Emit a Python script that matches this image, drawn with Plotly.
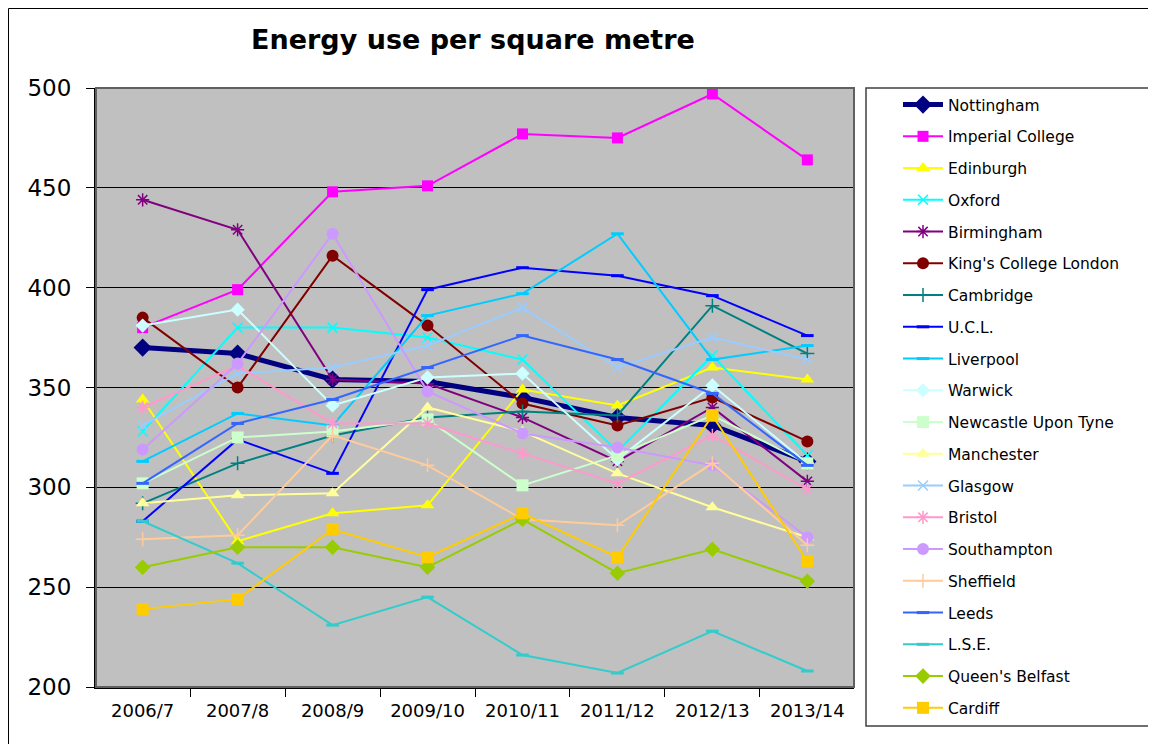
import plotly.graph_objects as go

years = ["2006/7", "2007/8", "2008/9", "2009/10", "2010/11", "2011/12", "2012/13", "2013/14"]

nottingham = [370, 367, 354, 353, 345, 335, 331, 313]
imperial = [380, 399, 448, 451, 477, 475, 497, 464]
edinburgh = [344, 273, 287, 291, 349, 341, 360, 354]
oxford = [328, 380, 380, 375, 364, 318, 366, 316]
birmingham = [444, 429, 354, 352, 335, 313, 340, 303]
kings = [385, 350, 416, 381, 342, 331, 345, 323]
cambridge = [292, 312, 326, 335, 338, 336, 391, 367]
ucl = [283, 324, 307, 399, 410, 406, 396, 376]
liverpool = [313, 337, 331, 386, 397, 427, 364, 371]
warwick = [381, 389, 341, 355, 357, 314, 351, 312]
newcastle = [302, 325, 328, 334, 301, 316, 336, 312]
manchester = [292, 296, 297, 340, 328, 307, 290, 275]
glasgow = [331, 357, 360, 371, 390, 360, 375, 364]
bristol = [340, 361, 332, 332, 317, 302, 326, 299]
southampton = [319, 362, 427, 348, 327, 320, 311, 275]
sheffield = [274, 276, 326, 311, 284, 281, 312, 271]
leeds = [302, 332, 344, 360, 376, 364, 347, 311]
lse = [283, 262, 231, 245, 216, 207, 228, 208]
belfast = [260, 270, 270, 260, 284, 257, 269, 253]
cardiff = [239, 244, 279, 265, 287, 265, 336, 263]

series = [
    ("Nottingham", nottingham, "#000080", "diamond", 14, 5),
    ("Imperial College", imperial, "#FF00FF", "square", 11, 2),
    ("Edinburgh", edinburgh, "#FFFF00", "triangle-up", 12, 2),
    ("Oxford", oxford, "#00FFFF", "x-thin-open", 10, 2),
    ("Birmingham", birmingham, "#800080", "asterisk-open", 11, 2),
    ("King's College London", kings, "#800000", "circle", 12, 2),
    ("Cambridge", cambridge, "#008080", "cross-thin-open", 10, 2),
    ("U.C.L.", ucl, "#0000FF", "line-ew-open", 9, 2),
    ("Liverpool", liverpool, "#00CCFF", "line-ew-open", 9, 2),
    ("Warwick", warwick, "#CCFFFF", "diamond", 11, 2),
    ("Newcastle Upon Tyne", newcastle, "#CCFFCC", "square", 12, 2),
    ("Manchester", manchester, "#FFFF99", "triangle-up", 12, 2),
    ("Glasgow", glasgow, "#99CCFF", "x-thin-open", 10, 2),
    ("Bristol", bristol, "#FF99CC", "asterisk-open", 11, 2),
    ("Southampton", southampton, "#CC99FF", "circle", 12, 2),
    ("Sheffield", sheffield, "#FFCC99", "cross-thin-open", 10, 2),
    ("Leeds", leeds, "#3366FF", "line-ew-open", 9, 2),
    ("L.S.E.", lse, "#33CCCC", "line-ew-open", 9, 2),
    ("Queen's Belfast", belfast, "#99CC00", "diamond", 12, 2),
    ("Cardiff", cardiff, "#FFCC00", "square", 12, 2),
]

fig = go.Figure()
for i, (name, vals, color, sym, size, lw) in enumerate(series):
    open_sym = sym.endswith("open")
    fig.add_trace(go.Scatter(
        x=years, y=vals, name=name, mode="lines+markers",
        legendgroup=f"g{i}",
        line=dict(color=color, width=lw),
        marker=dict(symbol=sym, size=size, color=color,
                    line=dict(color=color, width=(3 if sym.startswith("line") else 1.5) if open_sym else 0)),
    ))

# page body has an 8px margin; target coordinates are given in screen pixels
OFF = 8
W, H = 1156, 744
L, R, T, B = 96 - OFF, 854 - OFF, 88 - OFF, 687 - OFF
PW, PH = R - L, B - T

fig.update_layout(
    width=W, height=H,
    margin=dict(l=L, r=W - R, t=T, b=H - B, autoexpand=False),
    paper_bgcolor="white",
    plot_bgcolor="#C0C0C0",
    font=dict(family="DejaVu Sans, Verdana, sans-serif", color="black"),
    title=dict(text="<b>Energy use per square metre</b>", x=(473 - OFF) / W, xanchor="center",
               y=1 - (40 - OFF) / H, yanchor="middle", font=dict(size=27, color="black")),
    showlegend=True,
    legend=dict(x=(898 - OFF - L) / PW, xanchor="left", y=1, yanchor="top",
                bgcolor="rgba(0,0,0,0)", borderwidth=0,
                font=dict(size=15.5, color="black"),
                tracegroupgap=8.6, itemwidth=40, maxheight=720),
    xaxis=dict(type="category", showgrid=False, ticks="outside", tickson="boundaries",
               ticklen=8, tickcolor="black", showline=True, linecolor="black", linewidth=2,
               tickfont=dict(size=18), ticklabelstandoff=6),
    yaxis=dict(range=[200, 500], dtick=50, showgrid=True, gridcolor="black", gridwidth=1,
               ticks="outside", ticklen=8, tickcolor="black", showline=True, linecolor="black",
               linewidth=2, tickfont=dict(size=23), zeroline=False, ticklabelstandoff=10),
    shapes=[
        dict(type="rect", xref="paper", yref="paper", x0=0, x1=1, y0=0, y1=1,
             line=dict(color="#606060", width=2), layer="above"),
        dict(type="rect", xref="paper", yref="paper",
             x0=(866 - OFF - L) / PW, x1=(1150 - OFF - L) / PW,
             y0=(B - (726 - OFF)) / PH, y1=1,
             line=dict(color="#404040", width=1.5)),
        dict(type="rect", xref="paper", yref="paper",
             x0=(0.5 - L) / PW, x1=(1160 - OFF - L) / PW,
             y0=(B - (760 - OFF)) / PH, y1=(B - 0.5) / PH,
             line=dict(color="black", width=1)),
    ],
)

fig.write_html("out.html")
